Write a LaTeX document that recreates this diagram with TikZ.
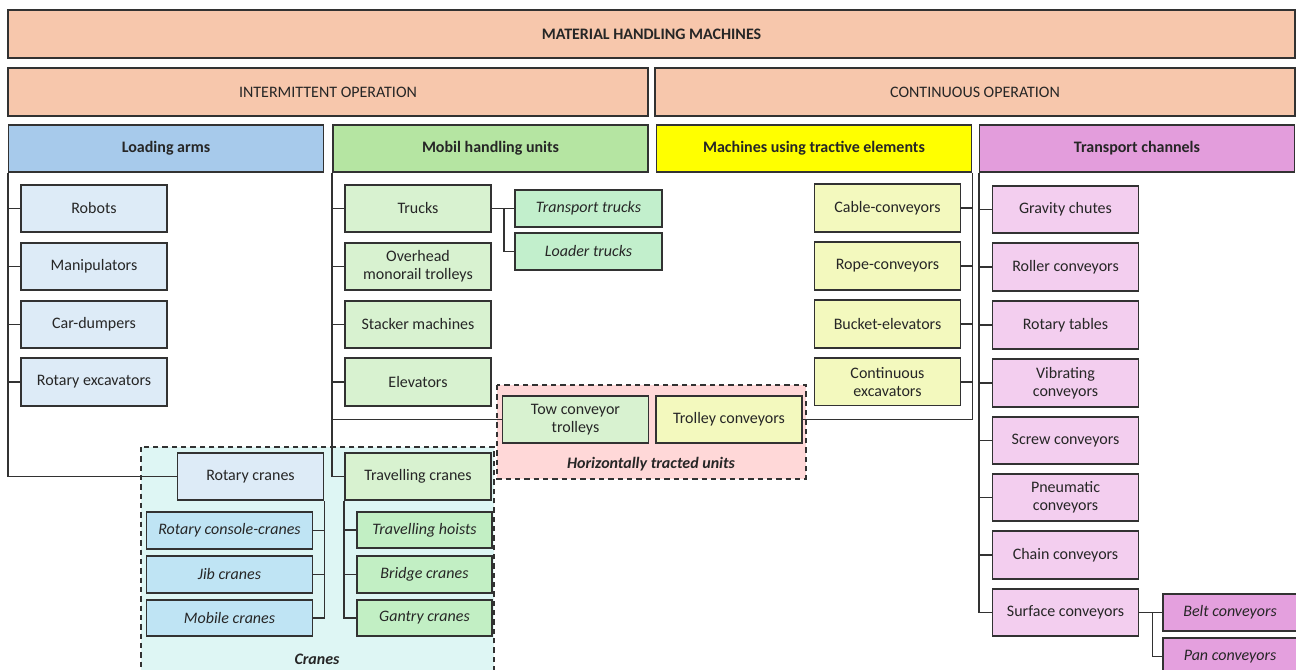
\documentclass[tikz,border=0pt]{standalone}
\usepackage{fontspec}
\setmainfont{Carlito}
\usepackage{xcolor}

\definecolor{peach}{RGB}{247,199,172}
\definecolor{armblue}{RGB}{167,202,235}
\definecolor{mobgreen}{RGB}{181,229,162}
\definecolor{tracyellow}{RGB}{255,255,0}
\definecolor{chanpink}{RGB}{227,157,220}
\definecolor{leafblue}{RGB}{221,235,247}
\definecolor{leafgreen}{RGB}{216,242,208}
\definecolor{leafyellow}{RGB}{243,249,190}
\definecolor{leafpink}{RGB}{243,206,239}
\definecolor{subgreen}{RGB}{194,239,204}
\definecolor{subblue}{RGB}{191,228,244}
\definecolor{hoistgreen}{RGB}{194,239,196}
\definecolor{subpink}{RGB}{228,160,222}
\definecolor{tractpink}{RGB}{255,216,216}
\definecolor{cranecyan}{RGB}{222,246,244}
\definecolor{edge}{RGB}{50,50,50}
\definecolor{ink}{RGB}{38,38,38}

\begin{document}
\begin{tikzpicture}[x=0.75pt,y=0.75pt,yscale=-1,xscale=1,
  font=\fontsize{12}{13.5}\selectfont, text=ink,
  box/.style={draw=edge,line width=1.4pt,align=center,inner sep=1pt},
  headbox/.style={box,fill=peach,minimum height=36pt},
  groupbox/.style={box,font=\fontsize{12}{13.5}\selectfont\bfseries,minimum width=236.25pt,minimum height=35.25pt},
  leaf/.style={box,minimum width=109.5pt,minimum height=35.6pt},
  subleaf/.style={box,font=\fontsize{12}{13.5}\selectfont\itshape,minimum height=27.6pt},
  link/.style={draw=edge,line width=1.4pt},
  cluster/.style={draw=edge,line width=1.4pt,dash pattern=on 4pt off 3pt},
  caption/.style={font=\fontsize{12}{13.5}\selectfont\bfseries\itshape}
]
\useasboundingbox (0,0) rectangle (1296,670);

%Shape: group areas
\draw [cluster,fill=tractpink] (497,385) rectangle (806,479);
\draw [cluster,fill=cranecyan] (141,447) rectangle (494,700);

% Header nodes
\node [headbox,font=\fontsize{12}{13.5}\selectfont\bfseries,minimum width=965.25pt] (mhm) at (651.5,34) {MATERIAL HANDLING MACHINES};
\node [headbox,minimum width=480pt] (io) at (328,92) {INTERMITTENT OPERATION};
\node [headbox,minimum width=480pt] (co) at (975,92) {CONTINUOUS OPERATION};

% Group nodes
\node [groupbox,fill=armblue] (la) at (166,148.5) {Loading arms};
\node [groupbox,fill=mobgreen] (mh) at (490.5,148.5) {Mobil handling units};
\node [groupbox,fill=tracyellow] (mt) at (814,148.5) {Machines using tractive elements};
\node [groupbox,fill=chanpink] (tc) at (1137,148.5) {Transport channels};

% Loading arms
\node [leaf,fill=leafblue] (rob) at (94,208.5) {Robots};
\node [leaf,fill=leafblue] (man) at (94,266.5) {Manipulators};
\node [leaf,fill=leafblue] (car) at (94,324.5) {Car-dumpers};
\node [leaf,fill=leafblue] (rex) at (94,382) {Rotary excavators};
\node [leaf,fill=leafblue] (rcr) at (250.5,476.5) {Rotary cranes};
\node [subleaf,fill=subblue,minimum width=124.5pt] (rcc) at (229.5,530.5) {Rotary console-cranes};
\node [subleaf,fill=subblue,minimum width=124.5pt] (jib) at (229.5,574.5) {Jib cranes};
\node [subleaf,fill=subblue,minimum width=124.5pt] (mcr) at (229.5,618) {Mobile cranes};

% Mobil handling units
\node [leaf,fill=leafgreen] (trk) at (418,208.5) {Trucks};
\node [leaf,fill=leafgreen] (omt) at (418,266.5) {Overhead\\monorail trolleys};
\node [leaf,fill=leafgreen] (stk) at (418,324.5) {Stacker machines};
\node [leaf,fill=leafgreen] (elv) at (418,382) {Elevators};
\node [leaf,fill=leafgreen] (tcr) at (418,476.5) {Travelling cranes};
\node [subleaf,fill=subgreen,minimum width=110pt] (ttr) at (588.5,208.5) {Transport trucks};
\node [subleaf,fill=subgreen,minimum width=110pt] (ltr) at (588.5,251.5) {Loader trucks};
\node [subleaf,fill=hoistgreen,minimum width=101.25pt] (tho) at (424.5,530) {Travelling hoists};
\node [subleaf,fill=hoistgreen,minimum width=101.25pt] (bcr) at (424.5,574.5) {Bridge cranes};
\node [subleaf,fill=hoistgreen,minimum width=101.25pt] (gcr) at (424.5,618) {Gantry cranes};

% Horizontally tracted units
\node [leaf,fill=leafgreen] (tow) at (575.5,419.5) {Tow conveyor\\trolleys};
\node [leaf,fill=leafyellow] (trc) at (729,419.5) {Trolley conveyors};

% Machines using tractive elements
\node [leaf,fill=leafyellow] (cab) at (887.5,208) {Cable-conveyors};
\node [leaf,fill=leafyellow] (rop) at (887.5,266) {Rope-conveyors};
\node [leaf,fill=leafyellow] (buk) at (887.5,324) {Bucket-elevators};
\node [leaf,fill=leafyellow] (cex) at (887.5,381.7) {Continuous\\excavators};

% Transport channels
\node [leaf,fill=leafpink] (gch) at (1065.5,209.5) {Gravity chutes};
\node [leaf,fill=leafpink] (rol) at (1065.5,267) {Roller conveyors};
\node [leaf,fill=leafpink] (rtb) at (1065.5,325) {Rotary tables};
\node [leaf,fill=leafpink] (vib) at (1065.5,383) {Vibrating\\conveyors};
\node [leaf,fill=leafpink] (scr) at (1065.5,440.5) {Screw conveyors};
\node [leaf,fill=leafpink] (pne) at (1065.5,497.5) {Pneumatic\\conveyors};
\node [leaf,fill=leafpink] (chn) at (1065.5,555) {Chain conveyors};
\node [leaf,fill=leafpink] (sfc) at (1065.5,612.5) {Surface conveyors};
\node [subleaf,fill=subpink,minimum width=100.5pt] (blt) at (1230,612.5) {Belt conveyors};
\node [subleaf,fill=subpink,minimum width=100.5pt] (pan) at (1230,656.5) {Pan conveyors};

% Text Node
\node [caption] (htucap) at (651,464) {Horizontally tracted units};
\node [caption] (crcap) at (317,659) {Cranes};

% Connectors
\draw [link] (la.south west) |- (rcr.west);
\foreach \n in {rob,man,car,rex} \draw [link] (\n.west) -- (\n.west -| la.west);
\draw [link] (rcr.south east) |- (mcr.east);
\foreach \n in {rcc,jib} \draw [link] (\n.east) -- (\n.east -| rcr.east);

\draw [link] (mh.south west) |- (tcr.west);
\foreach \n in {trk,omt,stk,elv} \draw [link] (\n.west) -- (\n.west -| mh.west);
\draw [link] (tow.west -| mh.west) -- (tow.west);
\draw [link] (trk.east) -- ++(12,0) coordinate (trkfork) |- (ltr.west);
\draw [link] (trkfork) -- (ttr.west);
\draw [link] (tcr.south west) |- (gcr.west);
\foreach \n in {tho,bcr} \draw [link] (\n.west) -- (\n.west -| tcr.west);

\draw [link] (mt.south east) |- (trc.east);
\foreach \n in {cab,rop,buk,cex} \draw [link] (\n.east) -- (\n.east -| mt.east);

\draw [link] (tc.south west) |- (sfc.west);
\foreach \n in {gch,rol,rtb,vib,scr,pne,chn} \draw [link] (\n.west) -- (\n.west -| tc.west);
\draw [link] (sfc.east) -- ++(13,0) coordinate (sfcfork) |- (pan.west);
\draw [link] (sfcfork) -- (blt.west);

\end{tikzpicture}
\end{document}
